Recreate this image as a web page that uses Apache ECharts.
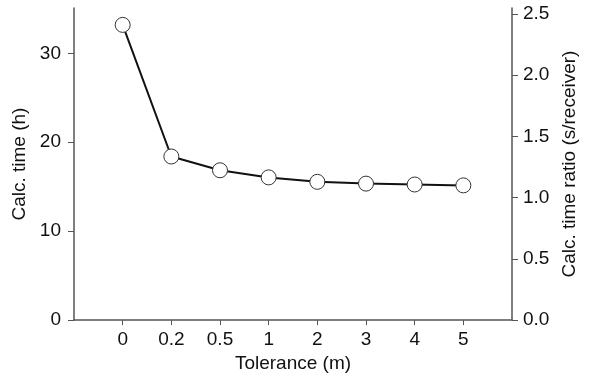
<!DOCTYPE html>
<html>
<head>
<meta charset="utf-8">
<script src="https://cdn.jsdelivr.net/npm/echarts@6/dist/echarts.min.js"></script>
<style>
  html, body { margin: 0; padding: 0; background: #fff; }
  #chart { width: 592px; height: 378px; }
</style>
</head>
<body>
<div id="chart"></div>
<script>
// Tolerance categories and calc. time (h)
const tolerance = ['0', '0.2', '0.5', '1', '2', '3', '4', '5'];
const calcTime = [33.2, 18.4, 16.85, 16.05, 15.55, 15.35, 15.25, 15.15];
const leftTicks = [0, 10, 20, 30];
const rightTicks = [0, 0.5, 1.0, 1.5, 2.0, 2.5];

// pad one empty slot on each side so points sit inside the frame
const cats = [''].concat(tolerance, ['']);
const values = [null].concat(calcTime, [null]);

const font = 'Liberation Sans, Arial, sans-serif';
const axisColor = '#555';
const fs = 19;

const chart = echarts.init(document.getElementById('chart'), null, { renderer: 'canvas' });

chart.setOption({
  animation: false,
  backgroundColor: '#fff',
  grid: { left: 74, right: 80, top: 8, bottom: 54 },
  xAxis: {
    type: 'category',
    data: cats,
    boundaryGap: false,
    name: 'Tolerance (m)',
    nameLocation: 'middle',
    nameGap: 33,
    nameTextStyle: { color: '#111', fontSize: fs, fontFamily: font },
    axisLine: { lineStyle: { color: axisColor, width: 1.5 } },
    axisTick: {
      length: 5,
      interval: (i) => i > 0 && i < cats.length - 1,
      lineStyle: { color: axisColor }
    },
    axisLabel: {
      interval: 0,
      margin: 10,
      color: '#111',
      fontSize: fs,
      fontFamily: font
    },
    splitLine: { show: false }
  },
  yAxis: [
    {
      type: 'value',
      min: 0,
      max: 35.1,
      name: 'Calc. time (h)',
      nameLocation: 'middle',
      nameGap: 40,
      nameRotate: 90,
      nameTextStyle: { color: '#111', fontSize: fs, fontFamily: font },
      axisLine: { show: true, lineStyle: { color: axisColor, width: 1.5 } },
      axisTick: { show: true, length: 6, customValues: leftTicks, lineStyle: { color: axisColor } },
      axisLabel: { customValues: leftTicks, margin: 13, color: '#111', fontSize: fs, fontFamily: font },
      splitLine: { show: false }
    },
    {
      type: 'value',
      min: 0,
      max: 2.548,
      position: 'right',
      name: 'Calc. time ratio (s/receiver)',
      nameLocation: 'middle',
      nameGap: 47,
      nameRotate: 90,
      nameTextStyle: { color: '#111', fontSize: fs, fontFamily: font },
      axisLine: { show: true, lineStyle: { color: axisColor, width: 1.5 } },
      axisTick: { show: true, length: 6, customValues: rightTicks, lineStyle: { color: axisColor } },
      axisLabel: {
        customValues: rightTicks,
        margin: 11,
        color: '#111',
        fontSize: fs,
        fontFamily: font,
        formatter: (v) => v.toFixed(1)
      },
      splitLine: { show: false }
    }
  ],
  series: [
    {
      type: 'line',
      yAxisIndex: 0,
      data: values,
      symbol: 'circle',
      symbolSize: 15,
      showSymbol: true,
      lineStyle: { color: '#111', width: 2 },
      itemStyle: { color: '#fff', borderColor: '#333', borderWidth: 1 }
    }
  ]
});
</script>
</body>
</html>
